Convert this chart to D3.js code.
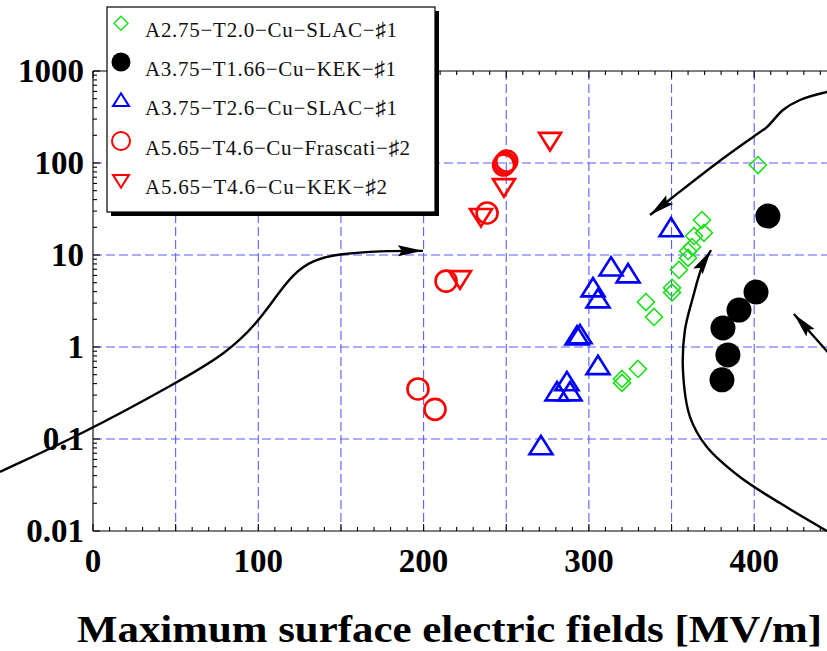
<!DOCTYPE html>
<html>
<head>
<meta charset="utf-8">
<script src="https://cdn.jsdelivr.net/npm/d3@7"></script>
<style>
  html, body { margin: 0; padding: 0; background: #fff; overflow: hidden; }
  svg { display: block; }
</style>
</head>
<body>
<div id="chart"></div>
<script>
// ---- data: [max surface field (MV/m), rate] ----
const seriesNames = [
  "A2.75\u2212T2.0\u2212Cu\u2212SLAC\u2212\u266F1",
  "A3.75\u2212T1.66\u2212Cu\u2212KEK\u2212\u266F1",
  "A3.75\u2212T2.6\u2212Cu\u2212SLAC\u2212\u266F1",
  "A5.65\u2212T4.6\u2212Cu\u2212Frascati\u2212\u266F2",
  "A5.65\u2212T4.6\u2212Cu\u2212KEK\u2212\u266F2"
];
const slacA275 = [
  [368.4, 24.0], [369.6, 17.4], [363.6, 16.1], [362.4, 12.2], [360.0, 11.0],
  [360.0, 9.3], [354.5, 6.9], [350.3, 4.4], [350.3, 3.9], [334.5, 3.08],
  [339.4, 2.12], [329.7, 0.577], [320.0, 0.449], [320.0, 0.407], [402.3, 95]
];
const kekA375 = [
  [408.3, 26.5], [401.1, 3.96], [390.8, 2.52], [381.1, 1.61], [384.1, 0.82], [380.5, 0.44]
];
const slacA375 = [
  [349.7, 19.2], [313.4, 7.2], [323.7, 6.06], [302.5, 4.27], [305.5, 3.24],
  [292.8, 1.28], [294.6, 1.32], [305.5, 0.61], [286.7, 0.407], [280.7, 0.316],
  [288.6, 0.316], [271.0, 0.082]
];
const frascatiA565 = [
  [249.2, 100], [250.3, 105], [248.4, 95], [238.4, 28.6], [213.6, 5.2],
  [196.6, 0.35], [206.9, 0.21]
];
const kekA565 = [
  [276.5, 178], [248.6, 56], [234.7, 26.5], [222.0, 5.6]
];

// guide arrows drawn over the data
const arrowLow = [
  [-56.3, 0.044], [-7.9, 0.11], [50.8, 0.41], [81, 0.86], [99.3, 1.82],
  [111, 3.6], [121, 6.2], [133, 8.9], [149.4, 10.3], [173.6, 11.1], [199.6, 11.1]
];
const arrowTop = [
  [455, 640], [444, 591], [427.7, 484], [417.4, 377], [407.7, 246],
  [399.3, 192], [377.5, 100], [350.9, 42.7], [337, 27.2]
];
const arrowRight = [
  [444, 0.01], [415.6, 0.0201], [391.4, 0.0386], [371.4, 0.0818], [361.2, 0.173],
  [356.9, 0.562], [358.1, 1.53], [363.0, 3.5], [368.4, 7.4], [373.9, 11.3]
];
const arrowSide = [[452, 0.62], [424, 2.28]];

const xTicks = [0, 100, 200, 300, 400];
const xGrid = [50, 100, 150, 200, 250, 300, 350, 400, 450];
const yTicks = [0.01, 0.1, 1, 10, 100, 1000];
const yTickLabels = ["0.01", "0.1", "1", "10", "100", "1000"];
const yGrid = [0.1, 1, 10, 100];
const xTitle = "Maximum surface electric fields [MV/m]";

// ---- layout ----
const W = 827, H = 651;
const x = d3.scaleLinear().domain([0, 450]).range([93, 93 + 450 * 1.653]);
const y = d3.scaleLog().domain([0.01, 1000]).range([531, 71]);

const svg = d3.select("#chart").append("svg").attr("width", W).attr("height", H);

const defs = svg.append("defs");
defs.append("marker")
  .attr("id", "head").attr("markerUnits", "userSpaceOnUse")
  .attr("viewBox", "0 -6 26 12").attr("refX", 25).attr("refY", 0)
  .attr("markerWidth", 26).attr("markerHeight", 12).attr("orient", "auto")
  .append("path").attr("d", "M0,-5.5 L25,0 L0,5.5 L4,0 Z").attr("fill", "#000");

const serif = "'Liberation Serif', 'Times New Roman', serif";
const gridColor = "#5c5cff";

// grid
svg.append("g").selectAll("line").data(xGrid).join("line")
  .attr("x1", d => x(d)).attr("x2", d => x(d)).attr("y1", y(1000)).attr("y2", y(0.01))
  .attr("stroke", gridColor).attr("stroke-width", 1.1).attr("stroke-dasharray", "9,4");
svg.append("g").selectAll("line").data(yGrid).join("line")
  .attr("x1", x(0)).attr("x2", W).attr("y1", d => y(d)).attr("y2", d => y(d))
  .attr("stroke", gridColor).attr("stroke-width", 1.1).attr("stroke-dasharray", "9,4");

// frame
const frame = svg.append("g").attr("stroke", "#000").attr("stroke-width", 1.1);
frame.append("line").attr("x1", x(0)).attr("x2", x(0)).attr("y1", y(1000)).attr("y2", y(0.01));
frame.append("line").attr("x1", x(0)).attr("x2", W).attr("y1", y(0.01)).attr("y2", y(0.01));
frame.append("line").attr("x1", x(0)).attr("x2", W).attr("y1", y(1000)).attr("y2", y(1000));

// x minor/major ticks (bottom and top, inward)
const xTickVals = d3.range(0, 451, 10);
frame.selectAll(".xb").data(xTickVals).join("line")
  .attr("x1", d => x(d)).attr("x2", d => x(d))
  .attr("y1", y(0.01)).attr("y2", d => y(0.01) - (d % 50 === 0 ? 7 : 4));
frame.selectAll(".xt").data(xTickVals).join("line")
  .attr("x1", d => x(d)).attr("x2", d => x(d))
  .attr("y1", y(1000)).attr("y2", d => y(1000) + (d % 50 === 0 ? 7 : 4));

// y log ticks (inward)
const yTickVals = [];
for (let e = -2; e < 3; e++) for (let m = 1; m < 10; m++) yTickVals.push(m * Math.pow(10, e));
yTickVals.push(1000);
frame.selectAll(".yt").data(yTickVals).join("line")
  .attr("x1", x(0)).attr("x2", d => x(0) + (Math.abs(Math.log10(d) - Math.round(Math.log10(d))) < 1e-9 ? 7 : 4))
  .attr("y1", d => y(d)).attr("y2", d => y(d));

// tick labels
svg.append("g").selectAll("text").data(xTicks).join("text")
  .attr("x", d => x(d)).attr("y", 572).attr("text-anchor", "middle")
  .attr("font-family", serif).attr("font-weight", "bold").attr("font-size", 33)
  .text(d => d);
svg.append("g").selectAll("text").data(yTicks).join("text")
  .attr("x", 84).attr("y", d => y(d) + 11).attr("text-anchor", "end")
  .attr("font-family", serif).attr("font-weight", "bold").attr("font-size", 33)
  .text((d, i) => yTickLabels[i]);

// axis title
svg.append("text").attr("x", 449.5).attr("y", 642).attr("text-anchor", "middle")
  .attr("font-family", serif).attr("font-weight", "bold").attr("font-size", 38)
  .attr("textLength", 745).attr("lengthAdjust", "spacingAndGlyphs")
  .text(xTitle);

// guide arrows
const lineCR = d3.line().x(d => x(d[0])).y(d => y(d[1])).curve(d3.curveCatmullRom.alpha(0.5));
const lineB = d3.line().x(d => x(d[0])).y(d => y(d[1])).curve(d3.curveBasis);
[[arrowLow, lineB], [arrowTop, lineCR], [arrowRight, lineCR], [arrowSide, lineCR]].forEach(([pts, gen]) => {
  svg.append("path").attr("d", gen(pts)).attr("fill", "none")
    .attr("stroke", "#000").attr("stroke-width", 2.4).attr("marker-end", "url(#head)");
});

// symbols
const green = "#19e019", blue = "#0000ff", red = "#ff0000";
function diamond(g, cx, cy, r, sw) {
  g.append("path").attr("d", `M${cx},${cy - r} L${cx + r},${cy} L${cx},${cy + r} L${cx - r},${cy} Z`)
    .attr("fill", "none").attr("stroke", green).attr("stroke-width", sw);
}
function triUp(g, cx, cy, s, sw) {
  const h = s * 0.8;
  g.append("path").attr("d", `M${cx},${cy - h * 0.6} L${cx + s / 2},${cy + h * 0.4} L${cx - s / 2},${cy + h * 0.4} Z`)
    .attr("fill", "none").attr("stroke", blue).attr("stroke-width", sw).attr("stroke-linejoin", "miter");
}
function triDown(g, cx, cy, s, sw) {
  const h = s * 0.8;
  g.append("path").attr("d", `M${cx},${cy + h * 0.6} L${cx + s / 2},${cy - h * 0.4} L${cx - s / 2},${cy - h * 0.4} Z`)
    .attr("fill", "none").attr("stroke", red).attr("stroke-width", sw).attr("stroke-linejoin", "miter");
}
function ring(g, cx, cy, r, sw) {
  g.append("circle").attr("cx", cx).attr("cy", cy).attr("r", r)
    .attr("fill", "none").attr("stroke", red).attr("stroke-width", sw);
}
function dot(g, cx, cy, r) {
  g.append("circle").attr("cx", cx).attr("cy", cy).attr("r", r).attr("fill", "#000");
}

const marks = svg.append("g");
frascatiA565.forEach(d => ring(marks, x(d[0]), y(d[1]), 10.5, 2.6));
kekA565.forEach(d => triDown(marks, x(d[0]), y(d[1]), 22, 2.6));
slacA375.forEach(d => triUp(marks, x(d[0]), y(d[1]), 23, 2.6));
slacA275.forEach(d => diamond(marks, x(d[0]), y(d[1]), 8.5, 1.6));
kekA375.forEach(d => dot(marks, x(d[0]), y(d[1]), 12.5));

// legend
const lg = svg.append("g");
lg.append("rect").attr("x", 111).attr("y", 11).attr("width", 328).attr("height", 205).attr("fill", "#000");
lg.append("rect").attr("x", 107).attr("y", 7).attr("width", 328).attr("height", 205)
  .attr("fill", "#fff").attr("stroke", "#000").attr("stroke-width", 1.2);
const rowBase = [37.3, 76, 115, 155, 194];
const rowEnd = [397, 396, 397, 410, 387];
const symFns = [
  (cx, cy) => diamond(lg, cx, cy, 7, 1.4),
  (cx, cy) => dot(lg, cx, cy, 9.5),
  (cx, cy) => triUp(lg, cx, cy, 16, 2),
  (cx, cy) => ring(lg, cx, cy, 9, 2),
  (cx, cy) => triDown(lg, cx, cy, 16, 2)
];
seriesNames.forEach((name, i) => {
  symFns[i](121, rowBase[i] - 14);
  lg.append("text").attr("x", 145).attr("y", rowBase[i])
    .attr("font-family", serif).attr("font-size", 21).attr("fill", "#111")
    .attr("textLength", rowEnd[i] - 145).attr("lengthAdjust", "spacing")
    .text(name);
});
</script>
</body>
</html>
